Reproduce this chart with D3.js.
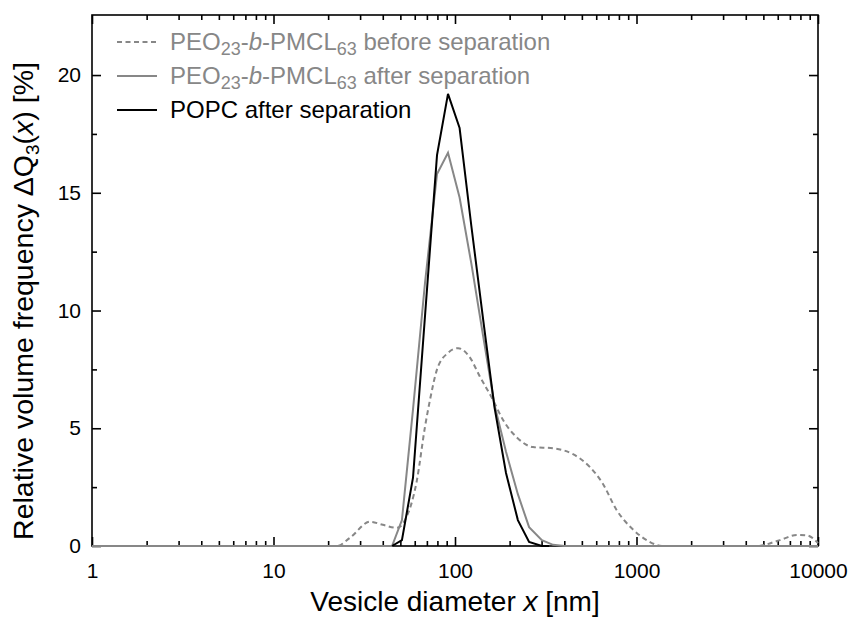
<!DOCTYPE html>
<html>
<head>
<meta charset="utf-8">
<script src="https://cdn.jsdelivr.net/npm/d3@7"></script>
<style>
  body { margin: 0; background: #fff; }
  svg { font-family: "Liberation Sans", Arial, sans-serif; }
</style>
</head>
<body>
<div id="chart"></div>
<script>
// data: [diameter nm, frequency %]
const beforeSep = [[1,0],[22.4,0],[26.4,0.35],[34,1.03],[40,0.9],[47.9,0.77],[53,1.1],[61.7,2.8],[68.3,5.05],
  [72.8,6.2],[79.6,7.5],[91.5,8.2],[104,8.4],[121,8.0],[137,7.2],[162,6.2],[184,5.35],[220,4.6],[269,4.2],
  [347,4.15],[447,3.9],[554,3.35],[646,2.7],[781,1.5],[957,0.7],[1186,0.17],[1380,0],[4613,0],[6170,0.25],
  [7660,0.47],[8710,0.45],[10000,0.12]];
const afterSep = [[1,0],[45,0],[51,1.1],[58.7,5.8],[68.4,11.2],[79.6,15.8],[91.5,16.7],[106,14.8],[123,12.0],
  [143,8.9],[165,6.0],[191,4.0],[222,2.2],[256,0.8],[301,0.25],[347,0.05],[400,0],[10000,0]];
const popc = [[45,0],[51,0.25],[58.7,2.9],[68.4,9.8],[79.6,16.6],[91.5,19.2],[106,17.75],[123,13.6],
  [143,9.6],[165,5.9],[191,3.1],[222,1.1],[256,0.17],[301,0],[330,0]];

const xTicks = [1, 10, 100, 1000, 10000];
const yTicks = [0, 5, 10, 15, 20];
const yMinorTicks = [2.5, 7.5, 12.5, 17.5];

const gray = "#878787";

let margin = {top: 15, right: 34, bottom: 77, left: 92},
    width = 852 - margin.left - margin.right,
    height = 623 - margin.top - margin.bottom;

let x = d3.scaleLog().domain([1, 10000]).range([0, width]);
let y = d3.scaleLinear().domain([0, 22.55]).range([height, 0]);

let xMinor = [];
for (let d = 1; d < 10000; d *= 10)
  for (let k = 2; k < 10; k++) xMinor.push(d * k);

let svg = d3.select("#chart").append("svg")
    .attr("width", 852).attr("height", 623)
  .append("g")
    .attr("transform", "translate(" + margin.left + "," + margin.top + ")");

// ticks, all pointing inwards
function tickAxis(axis, vals, size, tx, ty, labels) {
  let g = svg.append("g")
    .attr("transform", "translate(" + tx + "," + ty + ")")
    .call(axis.tickValues(vals).tickSizeInner(size).tickSizeOuter(0)
      .tickFormat(labels ? d3.format("d") : ""));
  g.select(".domain").remove();
  g.selectAll("line").attr("stroke", "#000").attr("stroke-width", 1.6);
  return g;
}
let xb = tickAxis(d3.axisBottom(x).tickPadding(17), xTicks, -9, 0, height, true);
tickAxis(d3.axisBottom(x), xMinor, -5, 0, height, false);
tickAxis(d3.axisTop(x), xTicks, -9, 0, 0, false);
tickAxis(d3.axisTop(x), xMinor, -5, 0, 0, false);
let yl = tickAxis(d3.axisLeft(y).tickPadding(11), yTicks, -9, 0, 0, true);
tickAxis(d3.axisLeft(y), yMinorTicks, -5, 0, 0, false);
tickAxis(d3.axisRight(y), yTicks, -9, width, 0, false);
tickAxis(d3.axisRight(y), yMinorTicks, -5, width, 0, false);

xb.selectAll("text").attr("font-size", 21).attr("fill", "#000").attr("font-family", null);
yl.selectAll("text").attr("font-size", 21).attr("fill", "#000").attr("font-family", null);

svg.append("rect")
    .attr("width", width).attr("height", height)
    .attr("fill", "none").attr("stroke", "#000").attr("stroke-width", 1.6);

let line = d3.line().x(d => x(d[0])).y(d => y(d[1]));

svg.append("path").attr("d", line.curve(d3.curveMonotoneX)(beforeSep))
    .attr("fill", "none").attr("stroke", gray).attr("stroke-width", 2)
    .attr("stroke-dasharray", "5,3.5");
line.curve(d3.curveLinear);
svg.append("path").attr("d", line(afterSep))
    .attr("fill", "none").attr("stroke", gray).attr("stroke-width", 2);
svg.append("path").attr("d", line(popc))
    .attr("fill", "none").attr("stroke", "#000").attr("stroke-width", 2);

// legend
let legend = svg.append("g").attr("transform", "translate(25,27)");
let rows = [
  {dash: "5,3.5", color: gray, text: "peo", after: " before separation"},
  {dash: null, color: gray, text: "peo", after: " after separation"},
  {dash: null, color: "#000", text: "POPC after separation"}
];
rows.forEach((r, i) => {
  let gy = i * 34;
  legend.append("line").attr("x1", 0).attr("x2", 40).attr("y1", gy).attr("y2", gy)
    .attr("stroke", r.color).attr("stroke-width", 2).attr("stroke-dasharray", r.dash);
  let t = legend.append("text").attr("x", 53).attr("y", gy + 8)
    .attr("font-size", 24).attr("fill", r.color);
  if (r.text === "peo") {
    t.append("tspan").text("PEO");
    t.append("tspan").attr("font-size", 18).attr("dy", 5).text("23");
    t.append("tspan").attr("dy", -5).text("-");
    t.append("tspan").attr("font-style", "italic").text("b");
    t.append("tspan").text("-PMCL");
    t.append("tspan").attr("font-size", 18).attr("dy", 5).text("63");
    t.append("tspan").attr("dy", -5).text(r.after);
  } else {
    t.text(r.text);
  }
});

// axis titles
let xt = svg.append("text")
    .attr("x", x(100)).attr("y", height + 65)
    .attr("text-anchor", "middle").attr("font-size", 28);
xt.append("tspan").text("Vesicle diameter ");
xt.append("tspan").attr("font-style", "italic").text("x");
xt.append("tspan").text(" [nm]");

let yt = svg.append("text")
    .attr("transform", "translate(" + (-59) + "," + 286 + ") rotate(-90)")
    .attr("text-anchor", "middle").attr("font-size", 28.5);
yt.append("tspan").text("Relative volume frequency \u0394Q");
yt.append("tspan").attr("font-size", 19).attr("dy", 6).text("3");
yt.append("tspan").attr("dy", -6).text("(");
yt.append("tspan").attr("font-style", "italic").text("x");
yt.append("tspan").text(") [%]");
</script>
</body>
</html>
